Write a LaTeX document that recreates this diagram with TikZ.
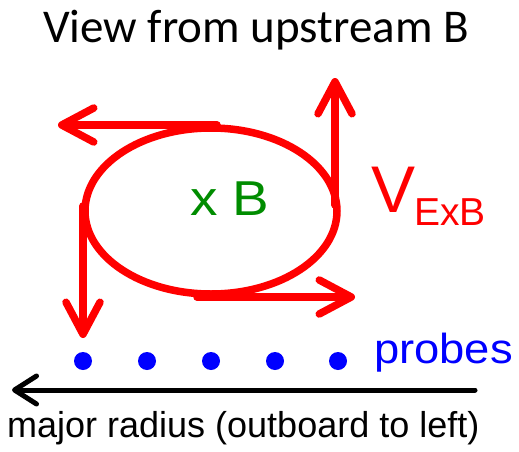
\documentclass[tikz,border=0pt]{standalone}
\usepackage{fontspec}
\usepackage{graphicx}
\setmainfont{Liberation Sans}
\newfontfamily\calibfont{Carlito}
\usetikzlibrary{arrows.meta}
\definecolor{vgreen}{RGB}{0,140,0}
\tikzset{
  flow/.style={draw=red, line width=7.5pt, line cap=round,
    -{Straight Barb[length=32pt,width=34pt,round]}},
  axisarrow/.style={draw=black, line width=5pt, line cap=round,
    -{Straight Barb[length=22pt,width=28pt,round]}},
  probe/.style={circle, fill=blue, inner sep=0pt, minimum size=18pt},
  lbl/.style={inner sep=0pt, anchor=base west},
}
\begin{document}
\begin{tikzpicture}[x=1pt,y=-1pt]
\useasboundingbox (0,0) rectangle (519,452);

% title
\node[inner sep=0pt, anchor=base, font=\calibfont\fontsize{47}{50}\selectfont] (title) at (256,43) {View from upstream B};

% ellipse
\coordinate (c) at (211,211);
\draw[red, line width=7.5pt] (c) ellipse [x radius=126pt, y radius=83pt];

% ExB flow arrows
\coordinate (ts) at (217,125); \coordinate (te) at (58,125);
\coordinate (rs) at (335,205); \coordinate (re) at (335,78);
\coordinate (bs) at (197,297); \coordinate (be) at (355,297);
\coordinate (ls) at (83,206);  \coordinate (le) at (83,338);
\draw[flow] (ts) -- (te);
\draw[flow] (rs) -- (re);
\draw[flow] (bs) -- (be);
\draw[flow] (ls) -- (le);

% labels
\node[lbl, text=vgreen, font=\fontsize{49}{51}\selectfont] (xb) at (190,215) {\scalebox{1.12}[1]{x B}};
\node[lbl, text=red, font=\fontsize{66}{68}\selectfont] (v) at (371,212) {V};
\node[lbl, text=red, font=\fontsize{39}{41}\selectfont] (sub) at (414,225) {ExB};

% probes
\foreach \i/\x in {1/83,2/147,3/211,4/275,5/338}
  \node[probe] (p\i) at (\x,361) {};
\node[lbl, text=blue, font=\fontsize{42}{44}\selectfont] (probes) at (374,363) {\scalebox{1.08}[1]{probes}};

% major radius axis
\coordinate (as) at (475,390); \coordinate (ae) at (12,390);
\draw[axisarrow] (as) -- (ae);
\node[lbl, font=\fontsize{36}{38}\selectfont] (radius) at (7,437) {major radius (outboard to left)};
\end{tikzpicture}
\end{document}
